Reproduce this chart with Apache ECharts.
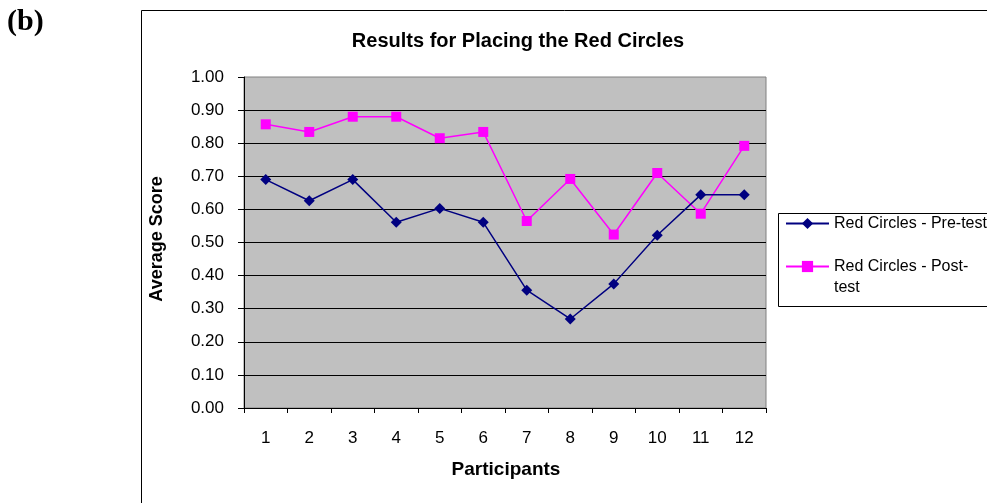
<!DOCTYPE html>
<html>
<head>
<meta charset="utf-8">
<script src="https://cdn.jsdelivr.net/npm/echarts@6/dist/echarts.min.js"></script>
<style>
  html, body { margin: 0; padding: 0; background: #fff; }
  #chart { width: 987px; height: 503px; }
</style>
</head>
<body>
<div id="chart"></div>
<script>
// participants on the x axis
const participants = ['1', '2', '3', '4', '5', '6', '7', '8', '9', '10', '11', '12']

// average scores
const preTest = [0.69, 0.626, 0.69, 0.561, 0.603, 0.561, 0.356, 0.269, 0.375, 0.522, 0.644, 0.644]
const postTest = [0.857, 0.834, 0.88, 0.88, 0.815, 0.834, 0.565, 0.692, 0.524, 0.71, 0.587, 0.792]

const seriesNames = ['Red Circles - Pre-test', 'Red Circles - Post-test']

const font = '"Liberation Sans", Arial, sans-serif'

const chart = echarts.init(document.getElementById('chart'), null, { renderer: 'canvas' })

const option = {
  backgroundColor: '#fff',
  animation: false,
  title: {
    text: 'Results for Placing the Red Circles',
    left: 513,
    top: 26,
    textAlign: 'center',
    textStyle: { fontFamily: font, fontSize: 20, fontWeight: 'bold', color: '#000' }
  },
  graphic: [
    // outer chart frame (runs off the right and bottom of the window)
    {
      type: 'rect',
      shape: { x: 141.5, y: 10.5, width: 900, height: 600 },
      style: { fill: 'none', stroke: '#000', lineWidth: 1 },
      z: 0
    },
    // legend frame
    {
      type: 'rect',
      shape: { x: 778.5, y: 213.5, width: 300, height: 93 },
      style: { fill: 'none', stroke: '#000', lineWidth: 1 },
      z: 0
    },
    {
      type: 'text',
      left: 7,
      top: 7,
      style: {
        text: '(b)',
        font: 'bold 30px "Liberation Serif", "Times New Roman", serif',
        fill: '#000'
      }
    },
    // axis titles
    {
      type: 'text',
      x: 157,
      y: 239,
      rotation: Math.PI / 2,
      style: {
        text: 'Average Score',
        font: 'bold 18px "Liberation Sans", Arial, sans-serif',
        fill: '#000',
        textAlign: 'center',
        textVerticalAlign: 'middle'
      }
    },
    {
      type: 'text',
      x: 506,
      y: 470,
      style: {
        text: 'Participants',
        font: 'bold 19px "Liberation Sans", Arial, sans-serif',
        fill: '#000',
        textAlign: 'center',
        textVerticalAlign: 'middle'
      }
    }
  ],
  legend: {
    orient: 'vertical',
    left: 785,
    top: 213,
    padding: 0,
    itemGap: 1,
    itemWidth: 43,
    itemHeight: 14,
    data: seriesNames,
    formatter: function (name) {
      // Excel wraps the second entry; pad with an empty line so the icon sits on the first line
      if (name === seriesNames[1]) return ' \nRed Circles - Post-\ntest'
      return name
    },
    textStyle: { fontFamily: font, fontSize: 16, color: '#000', lineHeight: 21 }
  },
  grid: {
    left: 244,
    top: 77,
    width: 522,
    height: 331,
    show: true,
    backgroundColor: '#c0c0c0',
    borderColor: '#808080',
    borderWidth: 1
  },
  xAxis: {
    type: 'category',
    data: participants,
    boundaryGap: true,
    axisLine: { lineStyle: { color: '#000', width: 1 } },
    axisTick: { show: true, length: 5, lineStyle: { color: '#000' } },
    axisLabel: { fontFamily: font, fontSize: 17, color: '#000', margin: 22 },
    splitLine: { show: false }
  },
  yAxis: {
    type: 'value',
    min: 0,
    max: 1,
    interval: 0.1,
    axisLine: { show: true, lineStyle: { color: '#000', width: 1 } },
    axisTick: { show: true, length: 6, lineStyle: { color: '#000' } },
    axisLabel: {
      fontFamily: font,
      fontSize: 17,
      color: '#000',
      margin: 20,
      formatter: v => v.toFixed(2)
    },
    splitLine: { show: true, showMaxLine: false, lineStyle: { color: '#000', width: 1 } }
  },
  series: [
    {
      name: seriesNames[0],
      type: 'line',
      data: preTest,
      symbol: 'diamond',
      symbolSize: 11,
      color: '#000080',
      lineStyle: { color: '#000080', width: 1.5 },
      itemStyle: { color: '#000080' },
      z: 3
    },
    {
      name: seriesNames[1],
      type: 'line',
      data: postTest,
      symbol: 'rect',
      symbolSize: 10,
      color: '#ff00ff',
      lineStyle: { color: '#ff00ff', width: 1.5 },
      itemStyle: { color: '#ff00ff' },
      z: 2
    }
  ]
}

chart.setOption(option)
</script>
</body>
</html>
